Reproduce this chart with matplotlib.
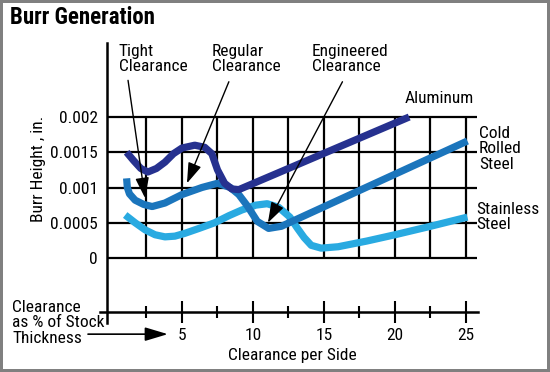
import matplotlib
matplotlib.use("Agg")
import matplotlib.pyplot as plt
from matplotlib import font_manager

# --- data ---
alu_x = [1.1, 1.6, 2.1, 2.6, 3.2, 3.8, 4.4, 5.0, 5.9, 6.6, 7.1, 7.5, 8.0, 8.5, 9.0, 21.0]
alu_y = [0.00150, 0.00138, 0.00127, 0.00122, 0.00127, 0.00136, 0.00148, 0.00156, 0.00160,
         0.00157, 0.00148, 0.00125, 0.00106, 0.00098, 0.00097, 0.00200]

crs_x = [1.1, 1.15, 1.3, 1.7, 2.3, 2.9, 3.8, 5.0, 6.4, 7.5, 8.4, 9.0, 9.6, 10.3, 11.1, 12.0, 25.1]
crs_y = [0.00113, 0.00100, 0.00091, 0.00082, 0.00076, 0.00073, 0.00078, 0.00090, 0.00100,
         0.00106, 0.00100, 0.00090, 0.00074, 0.00052, 0.00042, 0.00045, 0.00166]

ss_x = [1.0, 1.7, 2.4, 3.1, 3.8, 4.5, 5.2, 6.2, 7.3, 8.3, 9.2, 10.2, 11.0, 11.8, 12.6, 13.1,
        13.6, 14.1, 14.8, 16.0, 18.0, 20.0, 22.5, 25.1]
ss_y = [0.00061, 0.00050, 0.00040, 0.00033, 0.00030, 0.00031, 0.00035, 0.00042, 0.00050,
        0.00060, 0.00068, 0.00075, 0.00077, 0.00072, 0.00058, 0.00043, 0.00029, 0.00018,
        0.00014, 0.00016, 0.00024, 0.00033, 0.00045, 0.00058]

y_ticks = [0, 0.0005, 0.001, 0.0015, 0.002]
y_labels = ["0", "0.0005", "0.001", "0.0015", "0.002"]
x_major = [5, 10, 15, 20, 25]
x_minor = [2.5, 7.5, 12.5, 17.5, 22.5]
grid_x = [2.5, 5, 7.5, 10, 12.5, 15, 17.5, 20, 22.5, 25]

navy = "#26318f"
mid = "#1b75bc"
light = "#29aae1"

# pick a condensed sans if one is installed (reference uses Helvetica Condensed)
fonts = {}
for f in font_manager.fontManager.ttflist:
    fonts.setdefault(f.name, set()).add(f.weight)
body = next((n for n in ["Roboto Condensed", "Archivo Narrow", "PT Sans Narrow",
                         "Liberation Sans"] if n in fonts), "DejaVu Sans")
title_font = next((n for n in ["Roboto Condensed", "PT Sans Narrow", "Asap Condensed",
                               "Saira Condensed", "Liberation Sans"]
                   if n in fonts and any(int(w) >= 700 for w in fonts[n]
                                         if str(w).isdigit())), body)
plt.rcParams["font.family"] = [body, "DejaVu Sans"]

fig = plt.figure(figsize=(5.5, 3.72), dpi=100)
fig.patch.set_facecolor("white")
fig.patch.set_edgecolor("#808080")
fig.patch.set_linewidth(4)

ax = fig.add_axes([0.176, 0.079, 0.7229, 0.8339])
ax.set_xlim(-1, 27)
ax.set_ylim(-0.0012, 0.0032)

x0 = -0.28
# grid (only inside the 0..0.002 band)
ax.hlines(y_ticks, x0, 25.8, color="black", lw=1.6, zorder=1)
ax.vlines(grid_x, 0, 0.002, color="black", lw=1.6, zorder=1)

for s in ["top", "right"]:
    ax.spines[s].set_visible(False)
ax.spines["left"].set_position(("data", x0))
ax.spines["left"].set_bounds(-0.00092, 0.00305)
ax.spines["bottom"].set_position(("data", -0.00077))
ax.spines["bottom"].set_bounds(-0.8, 25.85)
ax.spines["left"].set_linewidth(1.8)
ax.spines["bottom"].set_linewidth(1.8)

ax.set_yticks(y_ticks)
ax.set_yticklabels(y_labels)
ax.tick_params(axis="y", length=0, pad=6.5, labelsize=12.5)
ax.set_xticks(x_major)
ax.set_xticks(x_minor, minor=True)
ax.tick_params(axis="x", which="major", direction="inout", length=16, width=1.5,
               pad=3, labelsize=12.5)
ax.tick_params(axis="x", which="minor", direction="inout", length=8, width=1.5)

ax.plot(ss_x, ss_y, color=light, lw=5.2, solid_capstyle="butt", solid_joinstyle="round", zorder=3)
ax.plot(crs_x, crs_y, color=mid, lw=5.2, solid_capstyle="butt", solid_joinstyle="round", zorder=4)
ax.plot(alu_x, alu_y, color=navy, lw=5.2, solid_capstyle="butt", solid_joinstyle="round", zorder=5)

arrow = dict(arrowstyle="-|>,head_length=0.9,head_width=0.3", color="black", lw=1,
             shrinkA=0, shrinkB=0, mutation_scale=14)
ax.annotate("", xy=(2.4, 0.00085), xytext=(1.2, 0.00252), arrowprops=arrow, zorder=6)
ax.annotate("", xy=(5.35, 0.00106), xytext=(8.3, 0.0025), arrowprops=arrow, zorder=6)
ax.annotate("", xy=(11.05, 0.00050), xytext=(16.3, 0.0025), arrowprops=arrow, zorder=6)

txt = dict(fontsize=12.5, va="center", ha="left", linespacing=1.05, clip_on=False)
ax.text(0.56, 0.00282, "Tight\nClearance", **txt)
ax.text(7.1, 0.00282, "Regular\nClearance", **txt)
ax.text(14.15, 0.00282, "Engineered\nClearance", **txt)
ax.text(20.7, 0.00226, "Aluminum", **txt)
ax.text(25.9, 0.00155, "Cold\nRolled\nSteel", **txt)
ax.text(25.7, 0.00058, "Stainless\nSteel", **txt)
ax.text(-6.97, -0.00092, "Clearance\nas % of Stock\nThickness", **txt)
ax.annotate("", xy=(4.0, -0.00108), xytext=(-1.62, -0.00108),
            arrowprops=dict(arrowstyle="-|>,head_length=1.0,head_width=0.3", color="black",
                            lw=1.2, shrinkA=0, shrinkB=0, mutation_scale=14))
ax.text(12.75, -0.00138, "Clearance per Side", fontsize=12.5, ha="center", va="center",
        clip_on=False)
ax.text(-5.1, 0.00127, "Burr Height , in.", fontsize=12.5, rotation=90, ha="center",
        va="center", clip_on=False)

fig.text(10 / 550, 1 - 17 / 372, "Burr Generation", fontsize=16.5, fontweight="bold",
         family=[title_font, "DejaVu Sans"], ha="left", va="center")

fig.savefig("out.png", dpi=100, facecolor=fig.get_facecolor(), edgecolor=fig.get_edgecolor())
